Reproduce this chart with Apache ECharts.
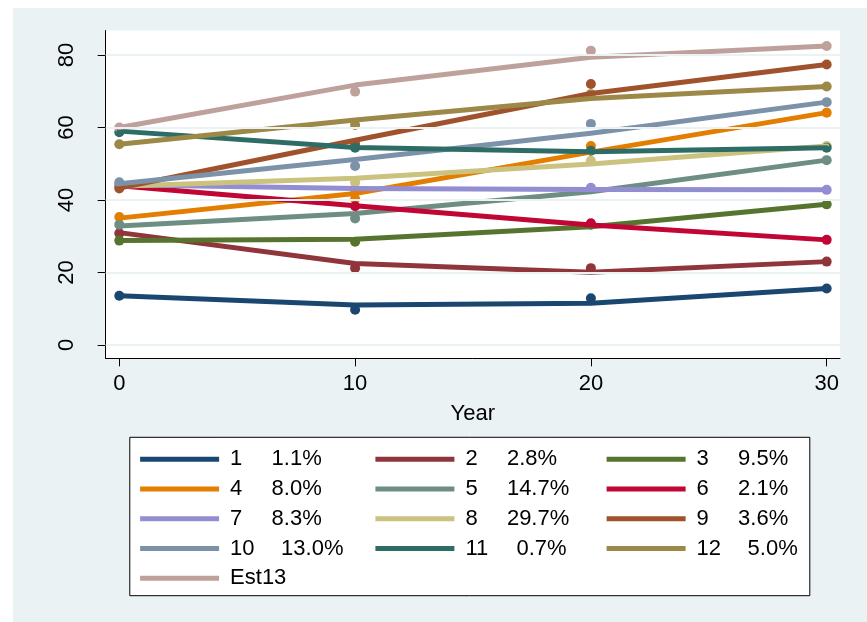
<!DOCTYPE html>
<html>
<head>
<meta charset="utf-8">
<script src="https://cdn.jsdelivr.net/npm/echarts@6/dist/echarts.min.js"></script>
<style>
  html, body { margin: 0; padding: 0; background: #ffffff; }
  #chart { position: absolute; left: 13px; top: 8px; width: 854px; height: 614px; }
</style>
</head>
<body>
<div id="chart"></div>
<script>
// Survey years on the x axis
const years = [0, 10, 20, 30];
const xTicks = [0, 10, 20, 30];
const yTicks = [0, 20, 40, 60, 80];

// Group labels and their shares shown in the legend
const groupNames = ['1', '2', '3', '4', '5', '6', '7', '8', '9', '10', '11', '12', 'Est13'];
const groupShares = ['1.1%', '2.8%', '9.5%', '8.0%', '14.7%', '2.1%', '8.3%', '29.7%', '3.6%', '13.0%', '0.7%', '5.0%', ''];

// Observed values (dots) per group at years 0, 10, 20, 30
const obs1 = [13.6, 9.7, 12.9, 15.6];
const obs2 = [30.8, 21.2, 21.2, 23.0];
const obs3 = [28.8, 28.5, 33.2, 38.8];
const obs4 = [35.3, 40.3, 54.9, 64.1];
const obs5 = [33.2, 34.9, 43.0, 51.0];
const obs6 = [44.0, 38.3, 33.6, 29.0];
const obs7 = [44.0, 42.8, 43.4, 42.8];
const obs8 = [43.8, 44.8, 50.8, 54.9];
const obs9 = [43.2, 55.5, 72.0, 77.4];
const obs10 = [44.9, 49.4, 61.0, 67.0];
const obs11 = [58.7, 54.4, 53.6, 54.4];
const obs12 = [55.4, 60.7, 69.2, 71.3];
const obs13 = [60.0, 69.9, 81.2, 82.5];

// Fitted values (lines) per group at years 0, 10, 20, 30
const fit1 = [13.6, 11.0, 11.5, 15.6];
const fit2 = [31.0, 22.5, 20.1, 23.0];
const fit3 = [28.8, 29.2, 32.6, 38.8];
const fit4 = [35.0, 41.8, 53.2, 64.1];
const fit5 = [32.8, 36.3, 42.3, 51.0];
const fit6 = [43.9, 38.4, 33.1, 29.0];
const fit7 = [44.2, 43.2, 42.9, 42.8];
const fit8 = [43.8, 46.0, 49.9, 54.9];
const fit9 = [43.3, 56.5, 69.4, 77.4];
const fit10 = [44.5, 51.2, 58.4, 67.0];
const fit11 = [59.0, 54.5, 53.3, 54.4];
const fit12 = [55.4, 62.1, 68.0, 71.3];
const fit13 = [60.0, 71.7, 79.4, 82.5];

const observed = [obs1, obs2, obs3, obs4, obs5, obs6, obs7, obs8, obs9, obs10, obs11, obs12, obs13];
const fitted = [fit1, fit2, fit3, fit4, fit5, fit6, fit7, fit8, fit9, fit10, fit11, fit12, fit13];

const palette = ['#1a476f', '#90353b', '#55752f', '#e37e00', '#6e8e84', '#c10534',
                 '#938dd2', '#cac27e', '#a0522d', '#7b92a8', '#2d6d66', '#9c8847', '#bfa19c'];

const FONT = '"Liberation Sans", Arial, Helvetica, sans-serif';
const BG = '#eaf2f3';

const chart = echarts.init(document.getElementById('chart'), null, { renderer: 'canvas' });

// Horizontal reference lines at the y ticks, drawn first so they sit under the data
const series = [{
  name: '__grid',
  type: 'line',
  data: [],
  silent: true,
  markLine: {
    silent: true,
    symbol: 'none',
    label: { show: false },
    animation: false,
    lineStyle: { color: BG, width: 2, type: 'solid' },
    data: yTicks.map(v => ({ yAxis: v }))
  }
}];

groupNames.forEach((name, i) => {
  const color = palette[i];
  series.push({
    name: name,
    type: 'scatter',
    data: years.map((x, j) => [x, observed[i][j]]),
    symbol: 'circle',
    symbolSize: 10,
    itemStyle: { color: color, opacity: 1 }
  });
  series.push({
    name: name,
    type: 'line',
    data: years.map((x, j) => [x, fitted[i][j]]),
    symbol: 'none',
    showSymbol: false,
    itemStyle: { color: color },
    lineStyle: { color: color, width: 5, join: 'round', cap: 'round' }
  });
});

// Legend laid out as three columns
const legendText = {
  color: '#000',
  fontFamily: FONT,
  fontSize: 22,
  lineHeight: 22,
  padding: [0, 0, 0, 6],
  rich: {
    g: { width: 41.5, fontSize: 22, fontFamily: FONT, color: '#000', lineHeight: 22 },
    g2: { width: 51, fontSize: 22, fontFamily: FONT, color: '#000', lineHeight: 22 },
    p: { fontSize: 22, fontFamily: FONT, color: '#000', lineHeight: 22 }
  }
};
function legendLabel(name) {
  const i = groupNames.indexOf(name);
  const share = groupShares[i];
  if (!share) return '{p|' + name + '}';
  const key = name.length > 1 ? 'g2' : 'g';
  return '{' + key + '|' + name + '}{p|' + share + '}';
}
const columns = [[0, 3, 6, 9, 12], [1, 4, 7, 10], [2, 5, 8, 11]];
const columnLeft = [127.1, 362.4, 593.6];
const legends = columns.map((idx, c) => ({
  orient: 'vertical',
  left: columnLeft[c],
  top: 440.3,
  padding: 0,
  itemGap: 7.75,
  itemWidth: 79,
  itemHeight: 5,
  icon: 'rect',
  selectedMode: false,
  data: idx.map(k => groupNames[k]),
  formatter: legendLabel,
  textStyle: legendText
}));

const option = {
  animation: false,
  backgroundColor: BG,
  grid: {
    left: 92.7, top: 22.5, width: 734.3, height: 327.8,
    show: true, backgroundColor: '#ffffff', borderWidth: 0
  },
  xAxis: {
    type: 'value',
    min: -0.577, max: 30.565,
    name: 'Year',
    nameLocation: 'middle',
    nameGap: 45,
    nameTextStyle: { color: '#000', fontFamily: FONT, fontSize: 22 },
    axisLine: { show: true, onZero: false, lineStyle: { color: '#000', width: 1 } },
    axisTick: { show: true, length: 8, customValues: xTicks, lineStyle: { color: '#000', width: 1 } },
    axisLabel: { customValues: xTicks, margin: 15, color: '#000', fontFamily: FONT, fontSize: 22 },
    splitLine: { show: false }
  },
  yAxis: {
    type: 'value',
    min: -3.67, max: 86.76,
    axisLine: { show: true, onZero: false, lineStyle: { color: '#000', width: 1 } },
    axisTick: { show: true, length: 8, customValues: yTicks, lineStyle: { color: '#000', width: 1 } },
    axisLabel: { customValues: yTicks, rotate: 90, margin: 28, color: '#000', fontFamily: FONT, fontSize: 22 },
    splitLine: { show: false }
  },
  legend: legends,
  graphic: [{
    type: 'rect',
    z: 0,
    silent: true,
    shape: { x: 116.8, y: 429.3, width: 680, height: 158.4 },
    style: { fill: '#ffffff', stroke: '#000', lineWidth: 1 }
  }],
  series: series
};

chart.setOption(option);
</script>
</body>
</html>
